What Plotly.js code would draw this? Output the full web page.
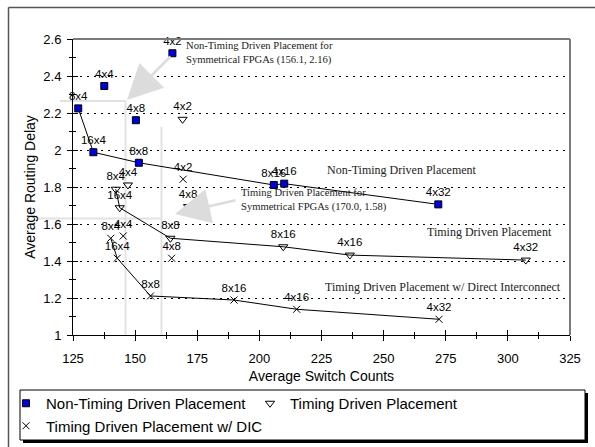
<!DOCTYPE html>
<html><head><meta charset="utf-8">
<script src="https://cdn.plot.ly/plotly-3.0.1.min.js"></script>
<style>html,body{margin:0;padding:0;background:#fff}#c{width:595px;height:447px}</style>
</head><body><div id="c"></div>
<script>
// ---- data ----
const ntLabels = ['4x2','4x4','8x4','4x8','16x4','8x8','8x16','4x16','4x32'];
const ntX = [165.0,137.6,127.1,150.3,133.2,151.5,205.8,210.0,272.0];
const ntY = [2.523,2.346,2.225,2.161,1.988,1.931,1.811,1.818,1.706];
const ntFront = ['8x4','16x4','8x8','8x16','4x16','4x32'];

const tdLabels = ['4x2','8x4','4x4','16x4','4x8','8x8','8x16','4x16','4x32'];
const tdX = [169.1,142.2,147.1,143.8,171.3,164.2,209.6,236.4,307.2];
const tdY = [2.166,1.788,1.811,1.688,1.694,1.523,1.477,1.432,1.405];
const tdFront = ['8x4','16x4','8x8','8x16','4x16','4x32'];

const dicLabels = ['4x2','8x4','4x4','16x4','4x8','8x8','8x16','4x16','4x32'];
const dicX = [169.3,140.2,145.2,142.8,164.7,156.2,189.8,215.0,272.3];
const dicY = [1.842,1.523,1.535,1.415,1.415,1.211,1.189,1.139,1.085];
const dicFront = ['8x4','16x4','8x8','8x16','4x16','4x32'];

const xTickVals = [125,150,175,200,225,250,275,300,325];
const yTickVals = [1,1.2,1.4,1.6,1.8,2,2.2,2.4,2.6];

// ---- helpers ----
const SANS = 'Liberation Sans, Arial, sans-serif';
const SERIF = 'Liberation Serif, Times New Roman, serif';
const L = 73, R = 25, T = 39, B = 112, W = 595, H = 447;
const PW = W - L - R, PH = H - T - B;
const px = v => (v - L) / PW;
const py = v => (H - B - v) / PH;
function frontier(labels, xs, ys, order) {
  const fx = [], fy = [];
  order.forEach(k => { const i = labels.indexOf(k); fx.push(xs[i]); fy.push(ys[i]); });
  return {x: fx, y: fy};
}
const lineStyle = {color: '#000', width: 1};
const nf = frontier(ntLabels, ntX, ntY, ntFront);
const tf = frontier(tdLabels, tdX, tdY, tdFront);
const df = frontier(dicLabels, dicX, dicY, dicFront);
const labFont = {family: SANS, size: 11.5, color: '#000'};

const data = [
  {x: nf.x, y: nf.y, mode: 'lines', line: lineStyle, showlegend: false, hoverinfo: 'skip'},
  {x: tf.x, y: tf.y, mode: 'lines', line: lineStyle, showlegend: false, hoverinfo: 'skip'},
  {x: df.x, y: df.y, mode: 'lines', line: lineStyle, showlegend: false, hoverinfo: 'skip'},
  {x: ntX, y: ntY, text: ntLabels, mode: 'markers+text', textposition: 'top center', textfont: labFont, cliponaxis: false,
   name: 'Non-Timing Driven Placement',
   marker: {symbol: 'square', size: 7, color: '#0000dd', line: {color: '#000', width: 1}}},
  {x: tdX, y: tdY, text: tdLabels, mode: 'markers+text', textposition: 'top center', textfont: labFont, cliponaxis: false,
   name: 'Timing Driven Placement',
   marker: {symbol: 'triangle-down-open', size: 8, color: '#000', line: {color: '#000', width: 1}}},
  {x: dicX, y: dicY, text: dicLabels, mode: 'markers+text', textposition: 'top center', textfont: labFont, cliponaxis: false,
   name: 'Timing Driven Placement w/ DIC',
   marker: {symbol: 'x-thin-open', size: 7, color: '#000', line: {color: '#000', width: 1}}},
  {x: [], y: [], xaxis: 'x2', yaxis: 'y2', showlegend: false, hoverinfo: 'skip', type: 'scatter'}
];

const grayLine = {color: '#e2e2e2', width: 2};
const shapes = [
  // crosshair guide lines
  {type: 'line', xref: 'paper', yref: 'paper', x0: px(60), x1: px(126), y0: py(101), y1: py(101), line: grayLine, layer: 'below'},
  {type: 'line', xref: 'paper', yref: 'paper', x0: px(125.5), x1: px(125.5), y0: py(101), y1: py(335), line: grayLine, layer: 'below'},
  {type: 'line', xref: 'paper', yref: 'paper', x0: px(37), x1: px(161.5), y0: py(218.5), y1: py(218.5), line: grayLine, layer: 'below'},
  {type: 'line', xref: 'paper', yref: 'paper', x0: px(161.5), x1: px(161.5), y0: py(127), y1: py(335), line: grayLine, layer: 'below'},
  // plot frame top/right
  {type: 'line', xref: 'paper', yref: 'paper', x0: 0, x1: 1, y0: 1, y1: 1, line: {color: '#7a7a7a', width: 2}},
  {type: 'line', xref: 'paper', yref: 'paper', x0: 1, x1: 1, y0: 0, y1: 1, line: {color: '#7a7a7a', width: 2}},
  // outer frame (left and top edges only visible)
  {type: 'line', xref: 'paper', yref: 'paper', x0: px(8.5), x1: px(8.5), y0: py(7.5), y1: py(447), line: {color: '#555', width: 1.5}},
  {type: 'line', xref: 'paper', yref: 'paper', x0: px(8.5), x1: px(595), y0: py(7.5), y1: py(7.5), line: {color: '#555', width: 1.5}},
  // legend shadow + box
  {type: 'rect', xref: 'paper', yref: 'paper', x0: px(23), x1: px(588), y0: py(393), y1: py(443), fillcolor: '#000', line: {width: 0}},
  {type: 'rect', xref: 'paper', yref: 'paper', x0: px(20), x1: px(585), y0: py(390), y1: py(440), fillcolor: '#fff', line: {color: '#000', width: 1}}
];

const serif = s => ({family: SERIF, size: s, color: '#222'});
const annotations = [
  {xref: 'paper', yref: 'paper', x: px(184), y: py(53), xanchor: 'left', yanchor: 'middle', align: 'left', showarrow: false,
   text: 'Non-Timing Driven Placement for<br>Symmetrical FPGAs (156.1, 2.16)', font: serif(10.6)},
  {xref: 'paper', yref: 'paper', x: px(239), y: py(200), xanchor: 'left', yanchor: 'middle', align: 'left', showarrow: false,
   text: 'Timing Driven Placement for<br>Symmetrical FPGAs (170.0, 1.58)', font: serif(10.6)},
  {xref: 'paper', yref: 'paper', x: px(325), y: py(170), xanchor: 'left', yanchor: 'middle', showarrow: false,
   text: 'Non-Timing Driven Placement', font: serif(12)},
  {xref: 'paper', yref: 'paper', x: px(425), y: py(232), xanchor: 'left', yanchor: 'middle', showarrow: false,
   text: 'Timing Driven Placement', font: serif(12)},
  {xref: 'paper', yref: 'paper', x: px(323), y: py(287), xanchor: 'left', yanchor: 'middle', showarrow: false,
   text: 'Timing Driven Placement w/ Direct Interconnect', font: serif(12)},
  // gray arrows
  {xref: 'paper', yref: 'paper', x: px(127), y: py(100), ax: 45, ay: -45, text: '', showarrow: true,
   arrowcolor: '#dcdcdc', arrowwidth: 2.5, arrowhead: 2, arrowsize: 2.8},
  {xref: 'paper', yref: 'paper', x: px(175), y: py(214), ax: 62, ay: -14, text: '', showarrow: true,
   arrowcolor: '#dcdcdc', arrowwidth: 2.5, arrowhead: 2, arrowsize: 2.8}
];

const layout = {
  width: W, height: H,
  margin: {l: L, r: R, t: T, b: B, autoexpand: false},
  paper_bgcolor: '#fff', plot_bgcolor: '#fff',
  font: {family: SANS, color: '#000'},
  showlegend: true,
  legend: {orientation: 'h', x: 6 / W, y: 1 - 387 / H, xref: 'container', yref: 'container', xanchor: 'left', yanchor: 'top',
           bgcolor: 'rgba(0,0,0,0)', borderwidth: 0, font: {family: SANS, size: 15, color: '#000'},
           entrywidth: 199, entrywidthmode: 'pixels'},
  xaxis: {range: [125, 325], tickvals: xTickVals, ticks: 'outside', ticklen: 5, tickcolor: '#000',
          minor: {ticks: 'outside', ticklen: 3, dtick: 12.5, tick0: 125, tickcolor: '#000', showgrid: false},
          showline: true, linecolor: '#000', linewidth: 1, showgrid: false, zeroline: false,
          tickfont: {family: SANS, size: 13}, ticklabelstandoff: 6,
          title: {text: 'Average Switch Counts', font: {family: SANS, size: 14}, standoff: 6}},
  yaxis: {range: [1, 2.6], tickvals: yTickVals, ticks: 'outside', ticklen: 5, tickcolor: '#000',
          minor: {ticks: 'outside', ticklen: 3, dtick: 0.1, tick0: 1, tickcolor: '#000', showgrid: false},
          showline: true, linecolor: '#000', linewidth: 1, showgrid: true, gridcolor: '#000', gridwidth: 1,
          griddash: '2px,5px', zeroline: false,
          tickfont: {family: SANS, size: 13}, ticklabelstandoff: 3,
          title: {text: 'Average Routing Delay', font: {family: SANS, size: 14}, standoff: 4}},
  xaxis2: {overlaying: 'x', anchor: 'y', side: 'bottom', range: [125, 325], tickvals: xTickVals, ticks: 'inside', ticklen: 5,
           tickcolor: '#000', minor: {ticks: 'inside', ticklen: 3, dtick: 12.5, tick0: 125, tickcolor: '#000'},
           showticklabels: false, showgrid: false, zeroline: false, showline: false},
  yaxis2: {overlaying: 'y', anchor: 'x', side: 'left', range: [1, 2.6], tickvals: yTickVals, ticks: 'inside', ticklen: 5,
           tickcolor: '#000', minor: {ticks: 'inside', ticklen: 3, dtick: 0.1, tick0: 1, tickcolor: '#000'},
           showticklabels: false, showgrid: false, zeroline: false, showline: false},
  shapes: shapes,
  annotations: annotations
};
Plotly.newPlot('c', data, layout, {displayModeBar: false, staticPlot: true});
</script></body></html>
